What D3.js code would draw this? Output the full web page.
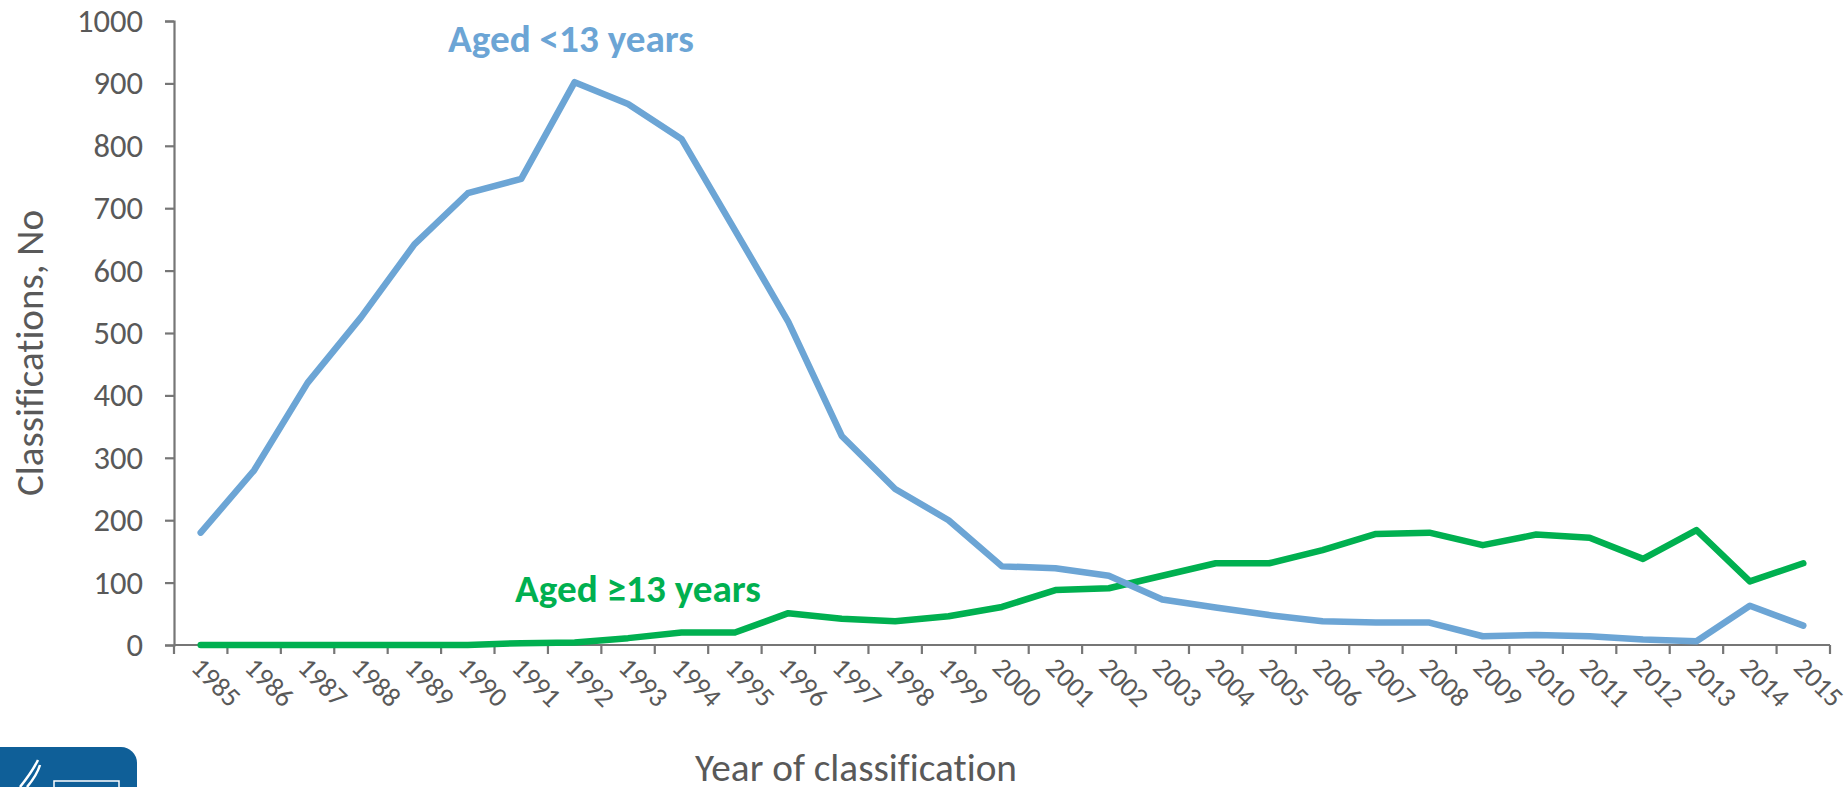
<!DOCTYPE html>
<html>
<head>
<meta charset="utf-8">
<script src="https://cdn.jsdelivr.net/npm/d3@7"></script>
<style>
  html, body { margin: 0; padding: 0; background: #fff; }
  svg { display: block; }
  text { font-family: Carlito, Calibri, "Open Sans", sans-serif; font-variant-ligatures: none; font-feature-settings: "liga" 0; }
</style>
</head>
<body>
<svg id="chart" width="1845" height="787"></svg>
<script>
const years = d3.range(1985, 2016).map(String);
const agedUnder13 = [180, 280, 420, 525, 642, 724, 747, 902, 867, 811, 665, 518, 335, 250, 200, 126, 123, 111, 73, 60, 48, 38, 36, 36, 14, 16, 14, 9, 6, 63, 31];
const aged13Plus = [0, 0, 0, 0, 0, 0, 3, 4, 11, 20, 20, 51, 42, 38, 46, 61, 88, 91, 111, 131, 131, 152, 178, 180, 160, 177, 172, 138, 184, 102, 131];
const yTicks = [0, 100, 200, 300, 400, 500, 600, 700, 800, 900, 1000];
const seriesLabels = ["Aged <13 years", "Aged \u226513 years"];
const axisTitles = { x: "Year of classification", y: "Classifications, No" };

(function () {
const svg = d3.select("#chart");
const mLeft = 174, mRight = 1830, mTop = 21, mBottom = 645;
const axisColor = "#767676", textColor = "#595959";
const blue = "#6CA5D5", green = "#00B050";
const FONT = "Carlito, Calibri, 'Open Sans', sans-serif";

// scale a text's font-size so its advance width matches a target width
function fitSize(sel, target) {
  const node = sel.node();
  const fs = parseFloat(sel.attr("font-size"));
  const w = node.getComputedTextLength();
  return w > 0 ? fs * target / w : fs;
}

const x = d3.scaleBand().domain(years).range([mLeft, mRight]).padding(0);
const y = d3.scaleLinear().domain([0, 1000]).range([mBottom, mTop]);

// Y axis
const yAxis = d3.axisLeft(y).tickValues(yTicks).tickSize(9).tickPadding(22).tickFormat(d3.format("d"));
const gy = svg.append("g").attr("transform", `translate(${mLeft},0)`).call(yAxis);
gy.attr("font-family", FONT);
gy.select(".domain").attr("stroke", axisColor).attr("stroke-width", 2.2);
gy.selectAll(".tick line").attr("stroke", axisColor).attr("stroke-width", 2.2);
const yTexts = gy.selectAll(".tick text").attr("fill", textColor).attr("font-size", 30).attr("font-family", FONT);
const topLabel = yTexts.filter(d => d === 1000);
const ySize = Math.min(34, fitSize(topLabel, 66));
yTexts.attr("font-size", ySize);

// X axis: ticks at band boundaries
const gx = svg.append("g").attr("transform", `translate(0,${mBottom})`);
gx.append("line").attr("x1", mLeft).attr("x2", mRight).attr("y1", 0).attr("y2", 0)
  .attr("stroke", axisColor).attr("stroke-width", 2.2);
const boundaries = years.map(d => x(d)).concat([x(years[years.length - 1]) + x.bandwidth()]);
gx.selectAll("line.tk").data(boundaries).join("line").attr("class", "tk")
  .attr("x1", d => d).attr("x2", d => d).attr("y1", 0).attr("y2", 9)
  .attr("stroke", axisColor).attr("stroke-width", 2.2);
const yrTexts = gx.selectAll("text.yr").data(years).join("text").attr("class", "yr")
  .attr("transform", d => `translate(${x(d) + x.bandwidth() / 2 - 11},${24}) rotate(45)`)
  .attr("fill", textColor).attr("font-size", 25).attr("font-family", FONT)
  .text(d => d);
const yrSize = Math.min(30, fitSize(yrTexts.filter((d, i) => i === 0), 56));
yrTexts.attr("font-size", yrSize);

// Lines
const line = d3.line().x((d, i) => x(years[i]) + x.bandwidth() / 2).y(d => y(d)).curve(d3.curveLinear);
svg.append("path").datum(aged13Plus).attr("d", line).attr("fill", "none")
  .attr("stroke", green).attr("stroke-width", 6.5).attr("stroke-linejoin", "round").attr("stroke-linecap", "round");
svg.append("path").datum(agedUnder13).attr("d", line).attr("fill", "none")
  .attr("stroke", blue).attr("stroke-width", 6.5).attr("stroke-linejoin", "round").attr("stroke-linecap", "round");

// Series labels
const lab1 = svg.append("text").attr("x", 571).attr("y", 52).attr("text-anchor", "middle").attr("font-family", FONT)
  .attr("font-size", 30).attr("font-weight", "bold").attr("fill", blue).text(seriesLabels[0]);
lab1.attr("font-size", Math.min(40, fitSize(lab1, 246)));
const lab2 = svg.append("text").attr("x", 638).attr("y", 602).attr("text-anchor", "middle").attr("font-family", FONT)
  .attr("font-size", 30).attr("font-weight", "bold").attr("fill", green).text(seriesLabels[1]);
lab2.attr("font-size", Math.min(40, fitSize(lab2, 246)));

// Axis titles
const yt = svg.append("text").attr("transform", `translate(43,353) rotate(-90)`).attr("text-anchor", "middle").attr("font-family", FONT)
  .attr("font-size", 30).attr("fill", textColor).text(axisTitles.y);
yt.attr("font-size", Math.min(40, fitSize(yt, 286)));
const xt = svg.append("text").attr("x", 856).attr("y", 781).attr("text-anchor", "middle").attr("font-family", FONT)
  .attr("font-size", 30).attr("fill", textColor).text(axisTitles.x);
xt.attr("font-size", Math.min(40, fitSize(xt, 322)));

// Logo (bottom-left)
const logo = svg.append("g");
logo.append("rect").attr("x", -20).attr("y", 747).attr("width", 157).attr("height", 70).attr("rx", 16)
  .attr("fill", "#0F5F98");
logo.append("path").attr("d", "M20,787 Q32,772 38,760").attr("stroke", "#fff").attr("stroke-width", 2.5).attr("fill", "none");
logo.append("path").attr("d", "M27,787 Q37,775 40,765").attr("stroke", "#fff").attr("stroke-width", 2.5).attr("fill", "none");
logo.append("rect").attr("x", 54).attr("y", 781).attr("width", 65).attr("height", 10)
  .attr("fill", "none").attr("stroke", "#fff").attr("stroke-width", 1.5);
})();
</script>
</body>
</html>
